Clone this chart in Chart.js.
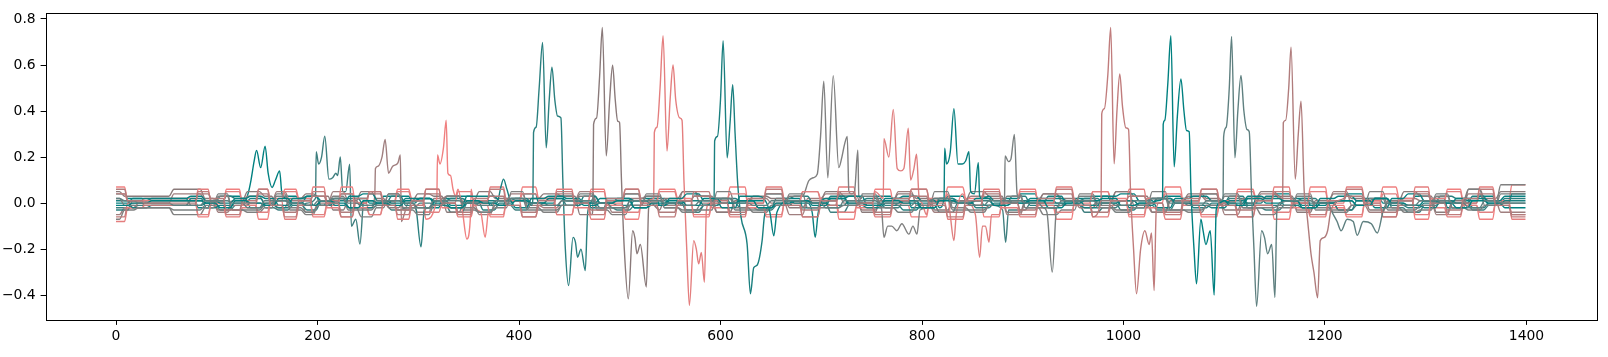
<!DOCTYPE html>
<html>
<head>
<meta charset="utf-8">
<script src="https://cdn.jsdelivr.net/npm/chart.js@4"></script>
<style>
  html, body { margin: 0; padding: 0; background: #fff; }
</style>
</head>
<body>
<canvas id="chart" width="1608" height="357"></canvas>
<script>
// axis ticks
const tickX = [0, 200, 400, 600, 800, 1000, 1200, 1400];
const tickY = [-0.4, -0.2, 0.0, 0.2, 0.4, 0.6, 0.8];

// series colours (teal / grey / coral family)
const colors = ['#008080', '#3f7f7f', '#a07f7f', '#f08080', '#2a7f7f', '#8a7a7a', '#e47e7e', '#1a7f7f',
                '#808080', '#e08080', '#0a8080', '#7a8080', '#c07c7c', '#008080', '#5f8080', '#b07c7c'];

// x positions where the band levels change (three groups of series)
const edgesA = [0, 10, 27, 80, 93, 108, 124, 140, 152, 166, 180, 194, 208, 222, 236, 250, 264, 278, 292, 306,
                322, 338, 354, 370, 386, 402, 418, 436, 454, 470, 486, 504, 520, 538, 556, 572, 590, 608, 626, 644,
                662, 680, 698, 716, 734, 752, 770, 788, 806, 824, 842, 860, 878, 896, 914, 932, 950, 968, 986, 1004,
                1022, 1040, 1058, 1076, 1094, 1112, 1130, 1148, 1166, 1184, 1202, 1220, 1238, 1256, 1272, 1288, 1304, 1320, 1336, 1352,
                1368, 1384, 1399];
const edgesB = [0, 14, 33, 72, 87, 101, 116, 131, 146, 159, 173, 187, 201, 215, 229, 243, 257, 271, 285, 299,
                314, 330, 346, 362, 378, 394, 410, 427, 445, 462, 478, 495, 512, 529, 547, 564, 581, 599, 617, 635,
                653, 671, 689, 707, 725, 743, 761, 779, 797, 815, 833, 851, 869, 887, 905, 923, 941, 959, 977, 995,
                1013, 1031, 1049, 1067, 1085, 1103, 1121, 1139, 1157, 1175, 1193, 1211, 1229, 1247, 1264, 1280, 1296, 1312, 1328, 1344,
                1360, 1376, 1399];
const edgesC = [0, 6, 20, 55, 86, 99, 113, 128, 145, 157, 170, 186, 198, 213, 228, 241, 256, 268, 283, 297,
                313, 326, 343, 358, 374, 390, 406, 422, 440, 458, 475, 490, 508, 524, 542, 560, 577, 594, 612, 630,
                648, 666, 684, 702, 720, 738, 756, 774, 792, 810, 828, 846, 864, 882, 900, 918, 936, 954, 972, 990,
                1008, 1026, 1044, 1062, 1080, 1098, 1116, 1134, 1152, 1170, 1188, 1206, 1224, 1242, 1260, 1276, 1292, 1308, 1324, 1340,
                1356, 1372, 1399];
const edgeGroup = [edgesA, edgesB, edgesC, edgesA, edgesB, edgesC, edgesA, edgesB,
                   edgesC, edgesA, edgesB, edgesC, edgesA, edgesB, edgesC, edgesA];

// level of each series between its edges, in hundredths
const bandLevels = [
  [4,2,1,-2,1,3,2,-1,1,3, 2,-1,1,4,2,0,3,3,1,-2, 2,3,1,-1,2,4,0,3,1,-2, 1,4,2,-1,1,3,2,0,1,4, 2,-2,1,3,0,3,2,-2,1,3, 1,-1,2,4,1,0,2,3,1,-2, 2,3,1,4,0,-1,2,4,2,-1, 1,4,2,0,1,3,2,-2,1,3, 0,4],
  [-2,-1,-1,1,0,-3,-1,0,-2,-3, -1,0,-2,-4,0,1,-1,-3,-2,0, -1,-4,0,0,-1,-3,0,2,-1,0, -2,-3,-1,1,0,-4,-1,0,-2,-3, -1,1,0,-4,-1,0,-2,1,-1,-4, 0,1,-1,-3,0,0,-1,-4,-2,1, -1,-3,0,0,-1,2,-2,-3,-1,0, 0,-3,-1,2,-2,-4,-1,0,0,-3, -1,0],
  [-5,-2,0,4,1,-4,-1,3,0,5, 1,-4,0,5,1,-2,-1,5,0,-4, 2,3,0,-5,1,4,-1,-2,1,5, 0,-4,2,3,-1,5,0,-4,1,2, 0,-5,2,4,0,-3,1,5,-1,-4, 1,3,2,-5,0,4,1,-2,0,5, -1,-4,1,3,1,-5,0,4,2,-3, 0,5,-1,-4,1,2,1,-5,0,4, 1,-4],
  [7,1,2,-6,0,6,-1,-7,1,6, 2,-6,-1,7,0,-5,1,6,2,-7, 0,6,-2,-6,1,7,2,-5,0,6, -1,-7,1,6,2,-6,0,7,-2,-6, 1,5,2,-7,0,6,-1,-6,1,7, 2,-6,0,6,-2,-7,1,5,2,-6, 0,7,-1,-6,1,6,2,-7,0,7, -2,-6,1,7,2,-7,0,6,-1,-7, 1,8],
  [-3,1,2,-1,0,3,2,-2,0,1, -1,-3,1,2,2,-1,0,3,-1,-2, 1,2,1,-3,0,1,-1,-2,2,3, 0,-1,1,2,0,-3,-1,2,1,-2, 2,3,0,-1,1,2,-1,-3,0,2, 1,-2,0,3,-1,-1,1,2,0,-3, 0,2,1,-2,0,3,-1,-1,1,2, 0,-3,1,2,-1,-2,0,3,2,-2, 0,2],
  [5,3,3,6,2,-3,1,5,3,-2, 2,4,3,-3,1,5,2,-2,1,4, 3,-4,1,5,2,1,2,4,3,-5, 1,4,2,-3,2,5,3,-4,1,3, 2,-2,1,5,3,-4,1,4,2,-3, 1,5,3,-4,1,4,2,-1,1,5, 3,-4,1,4,2,-3,2,5,3,-4, 1,4,2,-3,1,5,3,-4,1,6, 2,5],
  [-8,-2,-1,6,-1,-6,-2,6,1,-7, -1,7,-2,-6,0,5,1,-7,-1,6, -2,-6,0,7,1,-6,-1,6,-2,-7, 0,6,1,-5,-1,7,-2,-6,0,7, 1,-6,-1,7,-2,-6,0,6,1,-7, -1,6,-2,-6,0,7,1,-6,-1,6, -2,-7,0,6,1,-6,-1,7,-2,-6, 0,7,1,-6,-1,7,-2,-6,0,7, 1,-7],
  [1,-2,-1,2,-2,-1,0,2,-1,-2, 0,3,-1,1,-2,-2,-1,1,0,2, -1,-2,0,1,-2,2,0,-1,-1,3, 0,2,-2,-1,0,1,-1,2,0,-2, -1,1,0,3,-1,-2,0,1,-2,2, 0,-1,-1,1,0,3,-1,-2,0,1, -1,2,0,-1,-2,1,0,3,-1,-2, 0,1,-1,2,0,-1,-2,1,0,3, -1,1],
  [-7,-3,-2,-5,-2,3,-3,-4,-2,4, -3,-5,-1,3,-2,-6,-2,4,-3,-5, -1,3,-3,-4,-2,5,-2,-4,-1,3, -3,-5,-1,4,-2,-3,-3,5,-2,-4, -1,3,-2,-5,-3,4,-1,-3,-2,5, -2,-4,-1,3,-2,-5,-3,4,-1,-3, -2,5,-3,-4,-1,3,-2,-5,-2,4, -3,-3,-1,5,-2,-4,-3,3,-2,6, -1,8],
  [4,1,1,-5,0,5,-1,-4,2,5, 1,-5,0,4,-2,-5,0,5,1,-4, 0,5,-1,-5,1,4,2,-5,0,5, -1,-4,0,5,1,-5,2,4,-1,-5, 0,5,1,-4,-1,5,0,-5,2,4, 1,-5,0,5,-1,-4,0,5,1,-5, 2,4,-1,-5,0,5,1,-4,0,5, -1,-5,0,4,1,-5,2,5,-1,-4, 0,-5],
  [0,2,2,3,1,0,2,3,2,-1, 2,3,1,-1,3,4,1,0,2,2, 1,-1,3,3,1,-2,2,3,2,0, 2,2,1,-1,2,4,1,-2,3,3, 1,0,2,2,3,-1,2,3,1,-2, 2,3,1,0,2,2,1,-1,3,4, 1,-2,2,3,1,0,3,2,1,-1, 2,3,1,-2,2,4,1,0,2,2, 1,3],
  [2,-1,-2,-3,-1,4,-3,-3,-1,3, -2,-4,-1,2,-3,-3,-1,4,-2,-2, -1,3,-2,-4,-1,2,-3,-3,-1,4, -2,-2,-1,3,-2,-4,-1,2,-3,-3, -1,4,-2,-2,-1,3,-2,-4,-1,2, -3,-3,-1,4,-2,-2,-1,3,-2,-4, -1,2,-3,-3,-1,4,-2,-2,-1,3, -2,-4,-1,2,-3,-3,-1,4,-2,-3, -1,4],
  [-6,0,-1,5,1,-5,1,6,-1,-6, -1,5,1,-6,0,5,-1,-5,-1,6, 0,-5,1,6,-1,-6,-1,5,0,-5, 1,6,0,-6,-1,5,1,-5,0,6, -1,-6,-1,5,0,-5,1,6,0,-6, -1,5,1,-5,0,6,-1,-6,-1,5, 0,-5,1,6,-1,-6,-1,5,0,-5, 1,6,0,-6,-1,5,1,-5,0,6, -1,-6],
  [-1,0,1,1,0,-2,1,0,-1,2, 0,-1,1,0,-2,1,0,-1,1,2, 0,-2,1,0,-1,1,0,2,1,-1, 0,1,-2,0,1,-1,2,0,1,-2, 0,1,-1,2,0,-1,1,0,-2,1, 0,2,-1,0,1,-2,0,1,2,-1, 0,1,-2,0,1,-1,2,0,1,-2, 0,1,-1,2,0,-1,1,0,-2,1, 0,-2],
  [2,1,0,-1,1,1,0,-2,1,1, 0,-1,1,2,0,-1,1,1,0,-2, 1,1,0,-1,1,2,0,-1,1,1, 0,-2,1,1,0,-1,1,2,0,-1, 1,1,0,-2,1,1,0,-1,1,2, 0,-1,1,1,0,-2,1,1,0,-1, 1,2,0,-1,1,1,0,-2,1,1, 0,-1,1,2,0,-1,1,1,0,-2, 1,0],
  [6,1,0,4,2,-3,0,4,-1,-4, 1,3,0,-4,2,4,-1,-3,1,4, 0,-4,2,3,-1,-4,1,4,0,-3, 2,4,-1,-4,1,3,0,-4,2,4, -1,-3,1,4,0,-4,2,3,-1,-4, 1,4,0,-3,2,4,-1,-4,1,3, 0,-4,2,4,-1,-3,1,4,0,-4, 2,3,-1,-4,1,4,0,-3,2,4, -1,-5]
];

// spikes and dips: series index, x, y
const spikes = [
  {s: 0, x: [129, 131, 134, 137, 139.5, 143.6, 148, 151, 154.9, 158.3, 162.4, 164.4, 167],
         y: [0.02, 0.04, 0.1, 0.18, 0.229, 0.154, 0.247, 0.13, 0.068, 0.1, 0.14, 0.05, 0.02]},
  {s: 1, x: [198, 198.7, 201.1, 204, 207.2, 211.3, 215, 218.2, 220, 222.6, 225, 228, 231.9, 233.6, 238, 242.1, 245],
         y: [0.02, 0.223, 0.17, 0.2, 0.291, 0.104, 0.11, 0.13, 0.12, 0.2, 0.05, 0.05, 0.169, -0.1, -0.07, -0.178, -0.02]},
  {s: 2, x: [256.8, 257.5, 260, 264, 267.1, 270.5, 274.6, 279.8, 282.2, 283.2, 286, 290],
         y: [0.03, 0.15, 0.16, 0.2, 0.277, 0.13, 0.16, 0.175, 0.209, -0.08, -0.05, 0.0]},
  {s: 3, x: [318.4, 319.1, 321.5, 325, 327.7, 329.4, 332, 334.5, 337],
         y: [0.02, 0.209, 0.17, 0.24, 0.36, 0.13, 0.12, 0.06, 0.03]},
  {s: 4, x: [298, 302.7, 306], y: [-0.03, -0.19, -0.03]},
  {s: 3, x: [344, 348.2, 352], y: [-0.04, -0.156, -0.04]},
  {s: 3, x: [362, 366.4, 370], y: [-0.04, -0.149, -0.03]},
  {s: 7, x: [378, 382, 384.6, 388, 392], y: [0.0, 0.07, 0.104, 0.06, 0.01]},
  {s: 4, x: [413.8, 414.4, 417, 420, 423.4, 427, 430, 432.7, 435.5, 438.3, 441.6, 443.5, 446, 449.2, 453.6, 456, 458.1, 461.5, 465.8, 468, 471],
         y: [0.02, 0.306, 0.33, 0.5, 0.698, 0.24, 0.45, 0.59, 0.45, 0.378, 0.37, 0.1, -0.2, -0.358, -0.149, -0.17, -0.235, -0.2, -0.293, -0.05, 0.0]},
  {s: 5, x: [473.4, 474, 477, 480, 482.7, 486.6, 490, 492.9, 495.5, 497.9, 499.8, 501.7, 504.5, 508.5, 512.8, 515, 517.1, 520.4, 526.4, 528.7, 531],
         y: [0.02, 0.342, 0.37, 0.55, 0.763, 0.205, 0.45, 0.599, 0.45, 0.356, 0.35, 0.1, -0.2, -0.416, -0.12, -0.15, -0.22, -0.18, -0.365, -0.02, 0.0]},
  {s: 6, x: [533.7, 534.3, 537, 540, 543, 546.9, 550, 552.9, 555.5, 559.5, 561.8, 563.7, 566.5, 569.1, 573.4, 576, 578.3, 581, 584, 586, 589],
         y: [0.02, 0.306, 0.33, 0.5, 0.727, 0.226, 0.45, 0.6, 0.45, 0.37, 0.36, 0.1, -0.2, -0.445, -0.163, -0.2, -0.264, -0.214, -0.344, -0.03, 0.0]},
  {s: 7, x: [593.6, 594.2, 597, 600, 602.6, 606.6, 609.5, 612.1, 614.5, 617.1, 620.4, 626.4, 629.7, 633, 636.3, 641.3, 643.5, 646.5],
         y: [0.02, 0.27, 0.29, 0.45, 0.706, 0.197, 0.35, 0.515, 0.3, 0.083, -0.062, -0.178, -0.394, -0.28, -0.27, -0.163, -0.06, -0.02]},
  {s: 10, x: [649, 652.9, 656], y: [-0.04, -0.142, -0.04]},
  {s: 10, x: [691, 694, 697], y: [-0.04, -0.149, -0.04]},
  {s: 8, x: [683, 687.6, 692, 696, 699.3, 702.5, 706.5, 711.9, 717.4, 720.5, 723.1, 725.8, 727.4, 730, 733, 736.3, 737.3, 740],
         y: [0.04, 0.097, 0.11, 0.125, 0.29, 0.53, 0.11, 0.554, 0.154, 0.2, 0.255, 0.29, 0.05, 0.04, 0.05, 0.23, 0.03, 0.02]},
  {s: 8, x: [760, 762.2, 766, 770, 775, 780, 787, 791, 795, 798],
         y: [-0.03, -0.149, -0.1, -0.1, -0.12, -0.09, -0.135, -0.1, -0.135, -0.03]},
  {s: 9, x: [761.6, 762.2, 767.1, 771.5, 775.4, 779, 782, 786.4, 788.7, 792, 794.6, 797, 800],
         y: [0.02, 0.28, 0.2, 0.407, 0.15, 0.14, 0.15, 0.325, 0.1, 0.15, 0.212, 0.03, 0.0]},
  {s: 9, x: [828, 831.7, 834], y: [-0.05, -0.163, -0.05]},
  {s: 9, x: [853, 857.2, 860, 863, 866.5, 869], y: [-0.05, -0.235, -0.1, -0.1, -0.17, -0.05]},
  {s: 10, x: [821.9, 822.5, 824.4, 828, 831.7, 835.7, 840, 843.3, 846.6, 848.3, 852, 855.9, 857.2, 860],
          y: [0.02, 0.238, 0.17, 0.22, 0.41, 0.17, 0.17, 0.183, 0.223, 0.05, 0.04, 0.176, 0.03, 0.02]},
  {s: 1, x: [880, 883, 886], y: [-0.03, -0.17, -0.03]},
  {s: 11, x: [881.9, 882.5, 885.8, 888.2, 891.7, 894.4, 897], y: [0.02, 0.205, 0.18, 0.19, 0.298, 0.04, 0.02]},
  {s: 11, x: [924, 929.3, 933], y: [-0.04, -0.3, -0.04]},
  {s: 12, x: [977.8, 978.4, 981, 984.5, 987.3, 990.7, 993.5, 996.3, 999, 1002.3, 1005, 1007, 1010, 1012.9, 1017, 1021.2, 1025.5, 1027.8, 1030.4, 1032.5, 1035],
          y: [0.02, 0.388, 0.41, 0.56, 0.763, 0.171, 0.4, 0.561, 0.42, 0.327, 0.32, 0.05, -0.2, -0.394, -0.2, -0.12, -0.18, -0.13, -0.38, -0.03, 0.0]},
  {s: 13, x: [1038.8, 1039.4, 1041, 1044, 1047, 1050.3, 1053.5, 1057, 1060, 1062.6, 1065.2, 1067, 1070, 1072.5, 1076.8, 1079, 1081.8, 1086.1, 1090, 1092, 1095],
          y: [0.02, 0.342, 0.36, 0.52, 0.727, 0.158, 0.38, 0.54, 0.4, 0.315, 0.31, 0.05, -0.2, -0.351, -0.07, -0.12, -0.18, -0.12, -0.4, -0.03, 0.0]},
  {s: 14, x: [1098.8, 1099.4, 1102, 1105, 1107.3, 1110.6, 1113.5, 1116.6, 1119.5, 1122.5, 1124.8, 1127, 1129.5, 1132.1, 1137.1, 1140, 1143.1, 1147.1, 1150.3, 1152.3, 1155],
          y: [0.02, 0.288, 0.33, 0.5, 0.724, 0.197, 0.4, 0.555, 0.4, 0.32, 0.31, 0.05, -0.2, -0.449, -0.12, -0.15, -0.22, -0.18, -0.41, -0.03, 0.0]},
  {s: 15, x: [1158, 1158.6, 1161, 1164, 1166.3, 1170.5, 1173.5, 1176.2, 1179.4, 1182.1, 1186.1, 1189, 1192.7, 1195.3, 1199, 1202.6, 1206],
          y: [0.02, 0.349, 0.36, 0.5, 0.677, 0.104, 0.3, 0.443, 0.05, -0.048, -0.22, -0.3, -0.411, -0.163, -0.15, -0.12, -0.03]},
  {s: 14, x: [1206, 1212, 1216, 1222, 1228, 1232, 1238, 1246, 1252, 1258],
          y: [-0.03, -0.08, -0.12, -0.07, -0.08, -0.14, -0.08, -0.09, -0.13, -0.03]}
];

// turn levels + spikes into points for one series
function buildSeries(s) {
    const pts = [];
    const lv = bandLevels[s];
    const ed = edgeGroup[s];
    const ramp = ed === edgesA ? 1.5 : 2.5;
    const last = ed.length - 2;
    for (let i = 0; i <= last; i++) {
        const y = (lv[i] || 0) / 100;
        const a = i === 0 ? ed[i] : ed[i] + ramp;
        const b = i === last ? ed[i + 1] : ed[i + 1] - ramp;
        pts.push({x: a, y: y}, {x: b, y: y});
    }
    spikes.filter(e => e.s === s).forEach(e => {
        const lo = e.x[0], hi = e.x[e.x.length - 1];
        for (let k = pts.length - 1; k >= 0; k--) {
            if (pts[k].x >= lo && pts[k].x <= hi) pts.splice(k, 1);
        }
        e.x.forEach((x, j) => pts.push({x: x, y: e.y[j]}));
    });
    pts.sort((p, q) => p.x - q.x);
    return pts;
}

const datasets = colors.map((c, s) => ({
    data: buildSeries(s),
    borderColor: c,
    borderWidth: 1.4,
    pointRadius: 0,
    fill: false,
    cubicInterpolationMode: 'monotone',
    order: colors.length - s
}));

function fmt(v) {
    return v < 0 ? '\u2212' + Math.abs(v).toFixed(1) : v.toFixed(1);
}

// full box around the plot area
const frame = {
    id: 'frame',
    afterDatasetsDraw(chart) {
        const a = chart.chartArea, ctx = chart.ctx;
        ctx.save();
        ctx.strokeStyle = '#000';
        ctx.lineWidth = 1;
        ctx.strokeRect(Math.round(a.left) + 0.5, Math.round(a.top) + 0.5,
                       Math.round(a.right - a.left), Math.round(a.bottom - a.top));
        ctx.restore();
    }
};

Chart.defaults.font.family = 'DejaVu Sans';
Chart.defaults.font.size = 13.9;
Chart.defaults.color = '#000';

new Chart(document.getElementById('chart'), {
    type: 'line',
    data: { datasets: datasets },
    options: {
        responsive: false,
        devicePixelRatio: 1,
        animation: false,
        events: [],
        layout: { padding: { left: 0, top: 12, right: 12, bottom: 0 } },
        plugins: { legend: { display: false }, tooltip: { enabled: false } },
        scales: {
            x: {
                type: 'linear',
                min: -70,
                max: 1469,
                afterBuildTicks: sc => { sc.ticks = tickX.map(v => ({value: v})); },
                afterFit: sc => { sc.height = 37; },
                ticks: { callback: v => String(v), padding: 3, maxRotation: 0, autoSkip: false },
                grid: { drawOnChartArea: false, drawTicks: true, tickLength: 4.9, color: '#000' },
                border: { display: false }
            },
            y: {
                min: -0.508,
                max: 0.825,
                afterBuildTicks: sc => { sc.ticks = tickY.map(v => ({value: v})); },
                afterFit: sc => { sc.width = 45.5; },
                ticks: { callback: v => fmt(v), padding: 4.9, autoSkip: false },
                grid: { drawOnChartArea: false, drawTicks: true, tickLength: 4.9, color: '#000' },
                border: { display: false }
            }
        }
    },
    plugins: [frame]
});
</script>
</body>
</html>
